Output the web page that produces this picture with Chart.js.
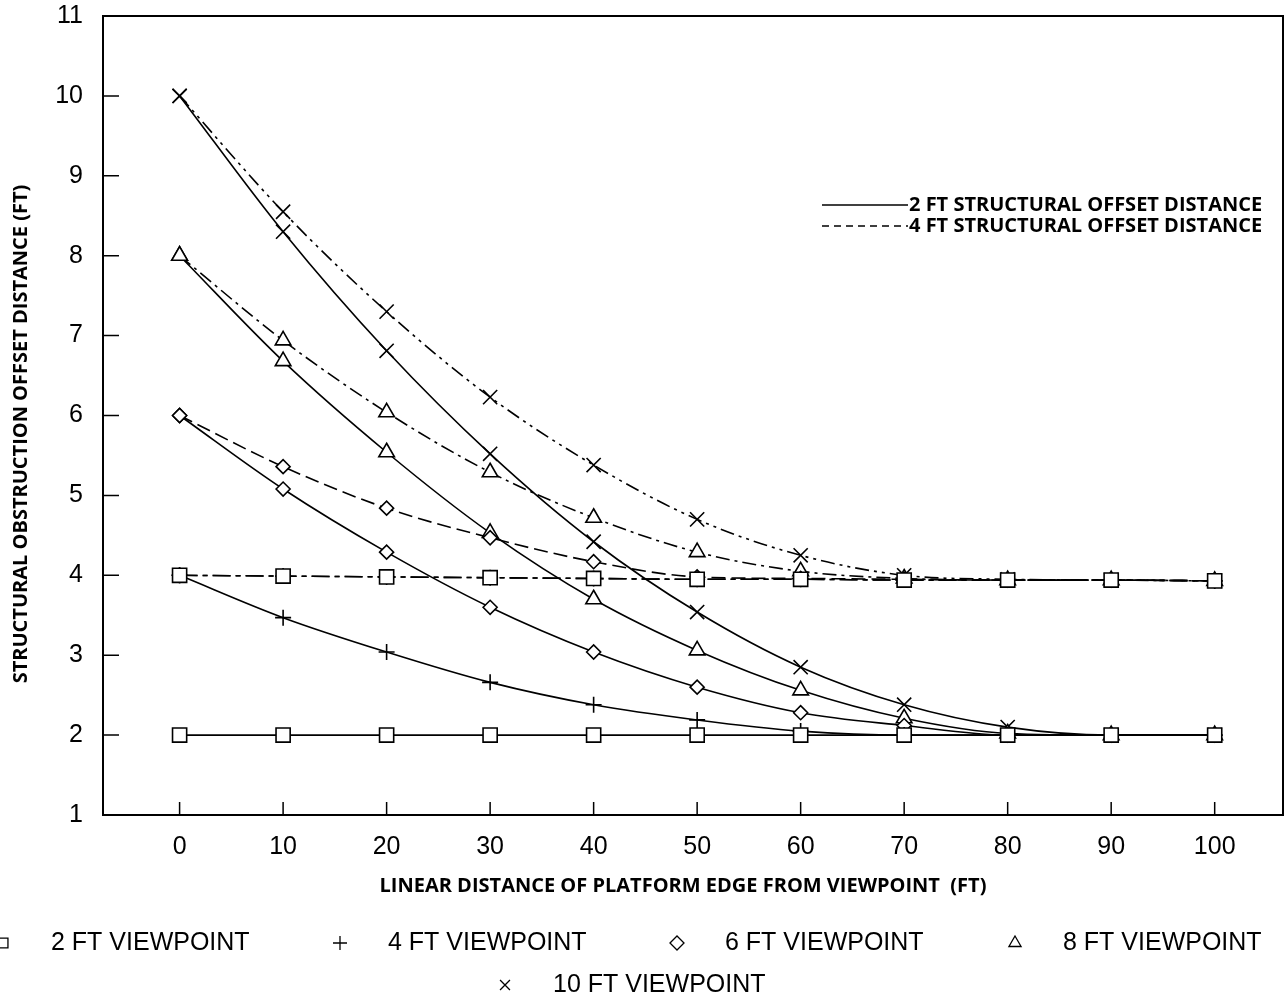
<!DOCTYPE html>
<html>
<head>
<meta charset="utf-8">
<script src="https://cdn.jsdelivr.net/npm/chart.js@4/dist/chart.umd.min.js"></script>
<style>
  html, body { margin: 0; padding: 0; background: #fff; overflow: hidden; }
  #wrap { width: 1287px; height: 999px; position: relative; }
  #chart { display: block; }
</style>
</head>
<body>
<div id="wrap"><canvas id="chart"></canvas></div>
<script>
// x positions (ft) shared by every series
const distances = [0, 10, 20, 30, 40, 50, 60, 70, 80, 90, 100];
const xTicks = [0, 10, 20, 30, 40, 50, 60, 70, 80, 90, 100];
const yTicks = [1, 2, 3, 4, 5, 6, 7, 8, 9, 10, 11];

// 2 FT structural offset distance (solid lines)
const vp2Offset2 = [2, 2, 2, 2, 2, 2, 2, 2, 2, 2, 2];
const vp4Offset2 = [4, 3.47, 3.04, 2.66, 2.38, 2.19, 2.05, 2.0, 2, 2, 2];
const vp6Offset2 = [6, 5.08, 4.29, 3.60, 3.04, 2.60, 2.28, 2.12, 2.0, 2, 2];
const vp8Offset2 = [8, 6.68, 5.54, 4.53, 3.70, 3.06, 2.56, 2.21, 2.02, 2, 2];
const vp10Offset2 = [10, 8.30, 6.81, 5.52, 4.42, 3.54, 2.85, 2.38, 2.10, 2, 2];

// 4 FT structural offset distance (dashed lines)
const vp2Offset4 = [4, 3.99, 3.98, 3.97, 3.96, 3.95, 3.95, 3.94, 3.94, 3.94, 3.93];
const vp4Offset4 = [4, 3.99, 3.98, 3.97, 3.96, 3.95, 3.95, 3.94, 3.94, 3.94, 3.93];
const vp6Offset4 = [6, 5.36, 4.84, 4.47, 4.17, 3.98, 3.96, 3.95, 3.94, 3.94, 3.93];
const vp8Offset4 = [8, 6.94, 6.04, 5.29, 4.72, 4.29, 4.05, 3.96, 3.94, 3.94, 3.93];
const vp10Offset4 = [10, 8.55, 7.30, 6.23, 5.38, 4.70, 4.25, 4.00, 3.95, 3.94, 3.93];

const viewpointLabels = ['2 FT VIEWPOINT', '4 FT VIEWPOINT', '6 FT VIEWPOINT', '8 FT VIEWPOINT', '10 FT VIEWPOINT'];
const offsetLabels = ['2 FT STRUCTURAL OFFSET DISTANCE', '4 FT STRUCTURAL OFFSET DISTANCE'];

const markers = [
  { style: 'rect', radius: 10 },
  { style: 'cross', radius: 8 },
  { style: 'rectRot', radius: 7 },
  { style: 'triangle', radius: 9 },
  { style: 'crossRot', radius: 10 }
];

const TICK_FONT = '"Liberation Sans", Arial, sans-serif';
const BOLD_FONT = '"Open Sans", "Liberation Sans", sans-serif';

function series(values, vpIndex, dash) {
  const m = markers[vpIndex];
  return {
    label: viewpointLabels[vpIndex],
    data: values.map((v, i) => ({ x: distances[i], y: v })),
    borderColor: '#000',
    borderWidth: 1.6,
    borderDash: dash,
    cubicInterpolationMode: 'monotone',
    pointStyle: m.style,
    pointRadius: m.radius,
    pointBorderColor: '#000',
    pointBorderWidth: 1.6,
    pointBackgroundColor: '#fff',
    fill: false
  };
}

const datasets = [
  series(vp2Offset4, 0, [18, 5, 5, 5]),
  series(vp4Offset4, 1, [18, 5, 5, 5]),
  series(vp6Offset4, 2, [14, 6]),
  series(vp8Offset4, 3, [14, 5, 3, 5]),
  series(vp10Offset4, 4, [14, 5, 3, 5, 3, 5]),
  series(vp2Offset2, 0, []),
  series(vp4Offset2, 1, []),
  series(vp6Offset2, 2, []),
  series(vp8Offset2, 3, []),
  series(vp10Offset2, 4, [])
];

// frame, inward ticks, axis titles and both legends
const decor = {
  id: 'decor',
  afterDraw(chart) {
    const { ctx, chartArea: a } = chart;
    const xs = chart.scales.x, ys = chart.scales.y;
    const helpers = Chart.helpers;
    ctx.save();
    ctx.strokeStyle = '#000';
    ctx.fillStyle = '#000';
    ctx.lineWidth = 2;
    ctx.strokeRect(a.left, a.top, a.right - a.left, a.bottom - a.top);

    ctx.lineWidth = 1.5;
    ctx.beginPath();
    ys.ticks.forEach(t => {
      const py = ys.getPixelForValue(t.value);
      ctx.moveTo(a.left, py); ctx.lineTo(a.left + 16, py);
    });
    xs.ticks.forEach(t => {
      const px = xs.getPixelForValue(t.value);
      ctx.moveTo(px, a.bottom); ctx.lineTo(px, a.bottom - 13);
    });
    ctx.stroke();

    // axis titles
    ctx.font = '700 20px ' + BOLD_FONT;
    ctx.textAlign = 'center';
    ctx.textBaseline = 'middle';
    ctx.fillText('LINEAR DISTANCE OF PLATFORM EDGE FROM VIEWPOINT  (FT)', 683, 886);
    ctx.save();
    ctx.translate(21, 434);
    ctx.rotate(-Math.PI / 2);
    ctx.fillText('STRUCTURAL OBSTRUCTION OFFSET DISTANCE (FT)', 0, 0);
    ctx.restore();

    // line-style legend inside the plot
    ctx.textAlign = 'left';
    ctx.lineWidth = 1.6;
    [[], [7, 5]].forEach((dash, i) => {
      const ly = 205 + i * 21;
      ctx.setLineDash(dash);
      ctx.beginPath();
      ctx.moveTo(822, ly); ctx.lineTo(908, ly);
      ctx.stroke();
      ctx.setLineDash([]);
      ctx.fillText(offsetLabels[i], 909, ly);
    });

    // viewpoint marker legend below the axis
    const slots = [[3, 943], [340, 943], [677, 943], [1015, 943], [505, 985]];
    ctx.font = '25px ' + TICK_FONT;
    ctx.lineWidth = 1.3;
    slots.forEach(([mx, my], i) => {
      ctx.fillStyle = '#fff';
      helpers.drawPoint(ctx, { pointStyle: markers[i].style, radius: 7, rotation: 0, borderWidth: 1.3 }, mx, my);
      ctx.fillStyle = '#000';
      ctx.fillText(viewpointLabels[i], mx + 48, my);
    });
    ctx.restore();
  }
};

new Chart(document.getElementById('chart'), {
  type: 'line',
  data: { datasets },
  plugins: [decor],
  options: {
    responsive: true,
    maintainAspectRatio: false,
    animation: false,
    layout: { autoPadding: false, padding: { top: 16, right: 4, left: 0, bottom: 0 } },
    plugins: { legend: { display: false }, tooltip: { enabled: false } },
    scales: {
      x: {
        type: 'linear',
        min: -7.4,
        max: 106.6,
        afterBuildTicks: s => { s.ticks = xTicks.map(v => ({ value: v })); },
        afterFit: s => { s.height = 184; s.paddingLeft = 0; s.paddingRight = 0; },
        grid: { display: false, drawTicks: false },
        border: { display: false },
        ticks: { font: { family: TICK_FONT, size: 25 }, color: '#000', padding: 17, maxRotation: 0 }
      },
      y: {
        min: 1,
        max: 11,
        afterBuildTicks: s => { s.ticks = yTicks.map(v => ({ value: v })); },
        afterFit: s => { s.width = 103; s.paddingTop = 0; s.paddingBottom = 0; },
        grid: { display: false, drawTicks: false },
        border: { display: false },
        ticks: { font: { family: TICK_FONT, size: 25 }, color: '#000', padding: 20 }
      }
    }
  }
});
</script>
</body>
</html>
